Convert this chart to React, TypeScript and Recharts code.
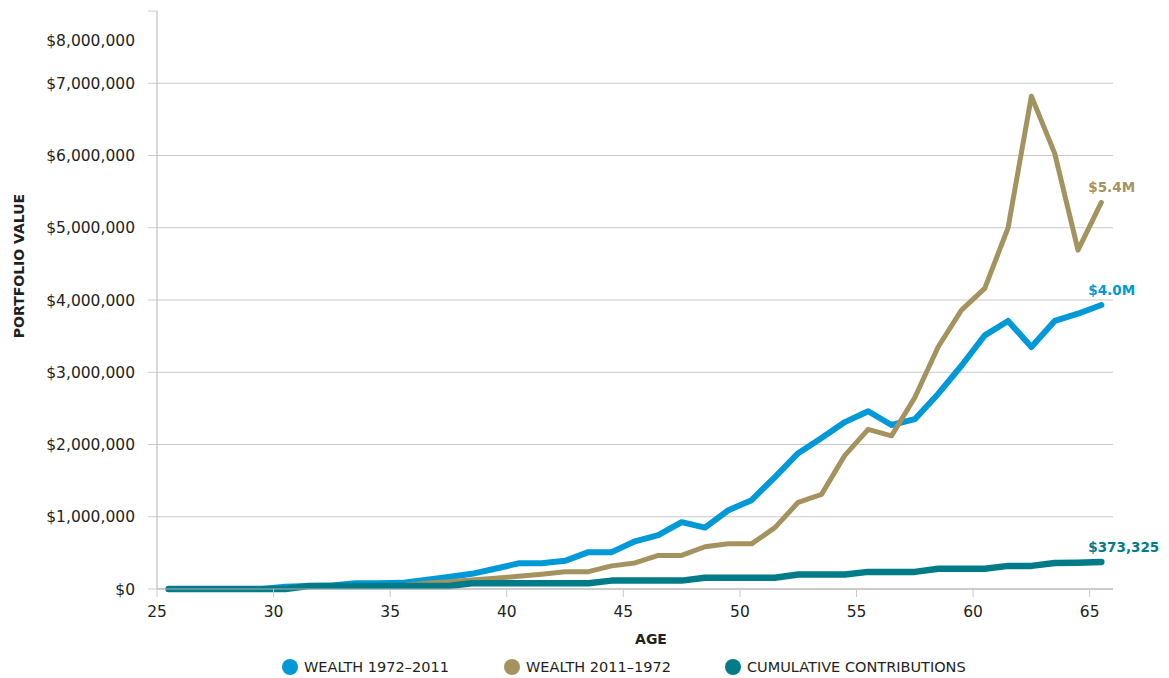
import React from 'react';
import { LineChart, Line, XAxis, YAxis, CartesianGrid, Label } from 'recharts';

// Age at the start of each plotted year (points sit at mid-year)
const ages = [
  25, 26, 27, 28, 29, 30, 31, 32, 33, 34, 35, 36, 37, 38, 39, 40, 41, 42, 43, 44,
  45, 46, 47, 48, 49, 50, 51, 52, 53, 54, 55, 56, 57, 58, 59, 60, 61, 62, 63, 64, 65,
];

// Portfolio value with 1972–2011 returns in historical order
const wealth1972to2011 = [
  0, 0, 0, 0, 0, 30000, 40000, 50000, 80000, 80000, 85000, 125000, 165000, 210000,
  280000, 355000, 355000, 390000, 510000, 510000, 660000, 745000, 925000, 850000,
  1090000, 1230000, 1550000, 1880000, 2090000, 2310000, 2460000, 2270000, 2350000,
  2700000, 3090000, 3510000, 3710000, 3350000, 3710000, 3810000, 3930000,
];

// Portfolio value with the same returns in reverse order
const wealth2011to1972 = [
  0, 0, 0, 0, 0, 10000, 40000, 40000, 45000, 45000, 50000, 80000, 100000, 125000,
  150000, 175000, 205000, 240000, 240000, 320000, 360000, 465000, 465000, 585000,
  625000, 625000, 850000, 1200000, 1310000, 1850000, 2210000, 2120000, 2650000,
  3350000, 3860000, 4160000, 5000000, 6820000, 6030000, 4690000, 5350000,
];

// Running total of contributions
const cumulativeContributions = [
  0, 0, 0, 0, 0, 0, 41000, 41000, 41000, 41000, 41000, 41000, 41000, 80000, 80000,
  80000, 80000, 80000, 80000, 116000, 116000, 116000, 116000, 157000, 157000, 157000,
  157000, 200000, 200000, 200000, 237000, 237000, 237000, 280000, 280000, 280000,
  320000, 320000, 360000, 365000, 373325,
];

const ageTicks = [25, 30, 35, 40, 45, 50, 55, 60, 65];
const valueTicks = [0, 1000000, 2000000, 3000000, 4000000, 5000000, 6000000, 7000000, 8000000];
const gridValues = [0, 1000000, 2000000, 3000000, 4000000, 5000000, 6000000, 7000000];

const seriesNames = ['WEALTH 1972–2011', 'WEALTH 2011–1972', 'CUMULATIVE CONTRIBUTIONS'];
const endLabels = ['$4.0M', '$5.4M', '$373,325'];

const BLUE = '#0099d8';
const GOLD = '#a4925f';
const TEAL = '#017b87';
const seriesColors = [BLUE, GOLD, TEAL];

// horizontal placement of each legend entry
const legendLeft = [282, 504, 725];

const FONT = '"DejaVu Sans", sans-serif';
const INK = '#231f20';
const GRID = '#c9c9c9';
const AXIS = '#b3b3b3';

const data = ages.map((age, i) => ({
  x: age + 0.5,
  w1: wealth1972to2011[i],
  w2: wealth2011to1972[i],
  c: cumulativeContributions[i],
}));

const fmtMoney = (v: number) => '$' + v.toLocaleString('en-US');

const YTick = (props: any) => {
  const { x, y, payload } = props;
  // the top label is nudged down below the axis cap
  const shift = payload.value === 8000000 ? 29 : 0;
  return (
    <text
      x={x}
      y={y + shift}
      dy="0.36em"
      textAnchor="end"
      fill={INK}
      fontSize={15.5}
      fontFamily={FONT}
    >
      {fmtMoney(payload.value)}
    </text>
  );
};

const endLabel = (text: string, color: string) => (props: any) => {
  if (props.index !== ages.length - 1) return <g />;
  return (
    <text
      x={props.x - 13}
      y={props.y - 10}
      fill={color}
      fontSize={13.5}
      fontWeight={700}
      fontFamily={FONT}
    >
      {text}
    </text>
  );
};

const LegendRow = () => (
  <div
    style={{
      position: 'absolute',
      left: 0,
      top: 658,
      width: 1169,
      height: 18,
      fontFamily: FONT,
      fontSize: 14.5,
      color: INK,
      lineHeight: '18px',
    }}
  >
    {seriesNames.map((name, i) => (
      <div
        key={name}
        style={{
          position: 'absolute',
          left: legendLeft[i],
          top: 0,
          display: 'flex',
          alignItems: 'center',
          whiteSpace: 'nowrap',
        }}
      >
        <span
          style={{
            width: 16,
            height: 16,
            borderRadius: '50%',
            background: seriesColors[i],
            display: 'inline-block',
            marginRight: 6,
          }}
        />
        <span>{name}</span>
      </div>
    ))}
  </div>
);

export default function App() {
  return (
    <div style={{ position: 'absolute', left: 0, top: 0, width: 1169, height: 678, background: '#fff' }}>
      <LineChart
        width={1169}
        height={678}
        data={data}
        margin={{ top: 11, right: 56, left: 0, bottom: 35 }}
      >
        <CartesianGrid
          vertical={false}
          stroke={GRID}
          strokeWidth={1}
          horizontalValues={gridValues}
        />
        <XAxis
          type="number"
          dataKey="x"
          domain={[25, 66]}
          ticks={ageTicks}
          interval={0}
          height={54}
          tickSize={8}
          tickMargin={9}
          axisLine={{ stroke: AXIS }}
          tickLine={{ stroke: GRID }}
          tick={{ fill: INK, fontSize: 15.5, fontFamily: FONT }}
        >
          <Label
            content={() => (
              <text x={651} y={644} textAnchor="middle" fill={INK} fontSize={14} fontWeight={700} fontFamily={FONT}>
                AGE
              </text>
            )}
          />
        </XAxis>
        <YAxis
          type="number"
          domain={[0, 8000000]}
          ticks={valueTicks}
          interval={0}
          width={157}
          tickSize={9}
          tickMargin={13}
          axisLine={{ stroke: AXIS }}
          tickLine={{ stroke: GRID }}
          tick={<YTick />}
        >
          <Label
            content={() => (
              <text
                transform="translate(24,266) rotate(-90)"
                textAnchor="middle"
                fill={INK}
                fontSize={14}
                fontWeight={700}
                fontFamily={FONT}
              >
                PORTFOLIO VALUE
              </text>
            )}
          />
        </YAxis>
        <Line
          type="linear"
          dataKey="w1"
          name={seriesNames[0]}
          stroke={BLUE}
          strokeWidth={6}
          strokeLinecap="round"
          strokeLinejoin="round"
          dot={false}
          isAnimationActive={false}
          label={endLabel(endLabels[0], BLUE)}
        />
        <Line
          type="linear"
          dataKey="w2"
          name={seriesNames[1]}
          stroke={GOLD}
          strokeWidth={5}
          strokeLinecap="round"
          strokeLinejoin="round"
          dot={false}
          isAnimationActive={false}
          label={endLabel(endLabels[1], GOLD)}
        />
        <Line
          type="linear"
          dataKey="c"
          name={seriesNames[2]}
          stroke={TEAL}
          strokeWidth={6.5}
          strokeLinecap="round"
          strokeLinejoin="round"
          dot={false}
          isAnimationActive={false}
          label={endLabel(endLabels[2], TEAL)}
        />
      </LineChart>
      <LegendRow />
    </div>
  );
}
